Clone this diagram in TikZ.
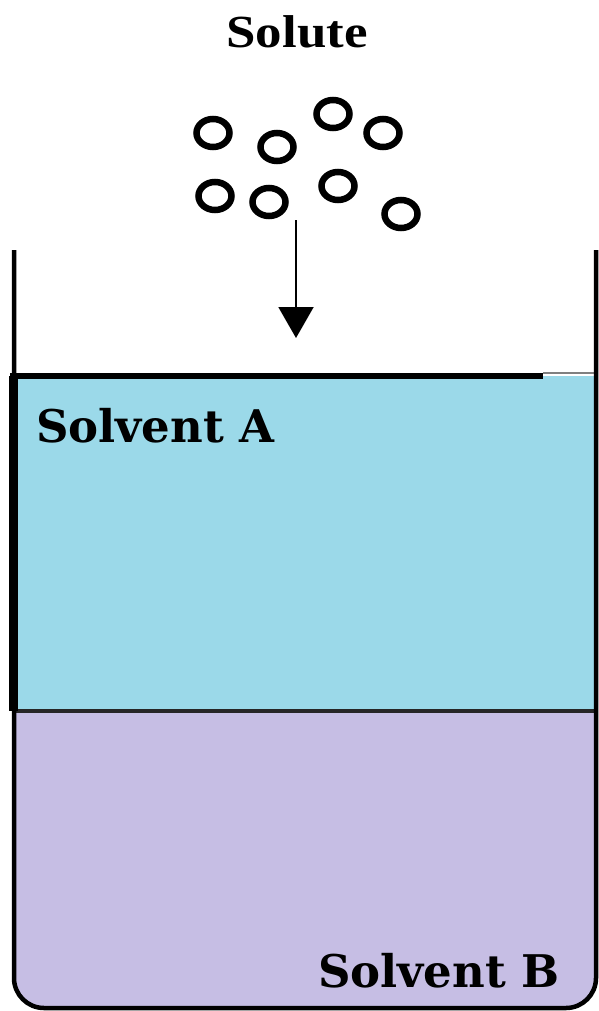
\documentclass[tikz,border=0pt]{standalone}
\usepackage{fontspec}
\setmainfont{DejaVu Serif}
\newfontfamily\titlefont[FakeStretch=1.15]{Liberation Serif}
\usetikzlibrary{shapes.geometric}
\usetikzlibrary{arrows.meta}
\definecolor{solvA}{RGB}{155,217,233}
\definecolor{solvB}{RGB}{198,190,228}
\tikzset{
	bead/.style = {ellipse, draw=black, line width=6.5pt, inner sep=0pt,
		minimum width=33pt, minimum height=28pt},% particule de solute
	sol_lbl/.style = {inner sep=0pt, font=\fontsize{45}{50}\selectfont\bfseries},% etiquette solvant
	wall/.style = {draw=black, line width=4.5pt}% paroi du becher
}

\begin{document}
\begin{tikzpicture}[x=1pt,y=-1pt]
		\useasboundingbox (0,0) rectangle (599,1011);
		% liquides
		\fill[solvB] (14,711) {[rounded corners=30pt] -- (14,1008) -- (596,1008)} -- (596,711) -- cycle;
		\fill[solvA] (14,376) rectangle (596,711);
		\draw[line width=4pt, black!85] (14,711) -- (596,711);
		\draw[line width=5.5pt] (10,376) -- (543,376);
		\draw[line width=1.2pt, black!50] (543,373) -- (596,373);
		\draw[line width=9pt] (13,376) -- (13,711);
		% becher
		\draw[wall] (14,250) {[rounded corners=30pt] -- (14,1008) -- (596,1008)} -- (596,250);
		% textes
		\node[inner sep=0pt, anchor=base, font=\titlefont\fontsize{46}{50}\selectfont\bfseries] (solute) at (297,48) {Solute};
		\node[sol_lbl, anchor=base west] (solvA) at (36,442) {Solvent A};
		\node[sol_lbl, anchor=base east] (solvB) at (560,987) {Solvent B};
		% particules
		\node[bead] (b1) at (213,133) {};
		\node[bead] (b2) at (277,147) {};
		\node[bead] (b3) at (333,114) {};
		\node[bead] (b4) at (383,133) {};
		\node[bead] (b5) at (215,196) {};
		\node[bead] (b6) at (269,202) {};
		\node[bead] (b7) at (338,186) {};
		\node[bead] (b8) at (401,214) {};
		\coordinate (drop) at (296,220);
		\coordinate (surf) at (296,338);
		\draw[-{Triangle[width=35pt,length=31pt]}, line width=2pt] (drop) -- (surf);
\end{tikzpicture}
\end{document}
